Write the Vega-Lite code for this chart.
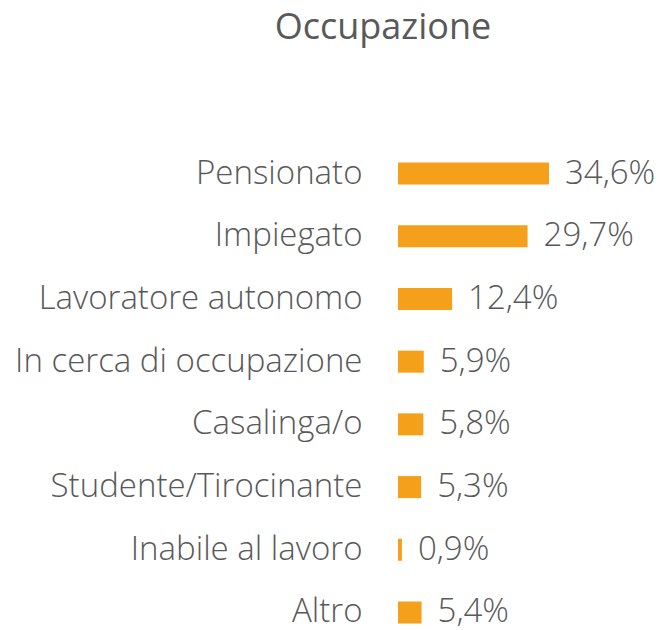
{
  "$schema": "https://vega.github.io/schema/vega-lite/v6.json",
  "autosize": {"type": "none"},
  "width": 240,
  "height": 461,
  "padding": {"left": 398, "top": 162.5, "right": 23, "bottom": 6},
  "config": {
    "view": {"stroke": null},
    "locale": {"number": {"decimal": ",", "thousands": ".", "grouping": [3], "currency": ["€", ""]}},
    "font": "Open Sans"
  },
  "title": {
    "text": "Occupazione",
    "font": "Open Sans",
    "fontSize": 36,
    "fontWeight": "normal",
    "color": "#595959",
    "anchor": "middle",
    "dx": -135,
    "offset": 110
  },
  "data": {
    "values": [
      {"categoria": "Pensionato", "valore": 0.346},
      {"categoria": "Impiegato", "valore": 0.297},
      {"categoria": "Lavoratore autonomo", "valore": 0.124},
      {"categoria": "In cerca di occupazione", "valore": 0.059},
      {"categoria": "Casalinga/o", "valore": 0.058},
      {"categoria": "Studente/Tirocinante", "valore": 0.053},
      {"categoria": "Inabile al lavoro", "valore": 0.009},
      {"categoria": "Altro", "valore": 0.054}
    ]
  },
  "encoding": {
    "y": {
      "field": "categoria",
      "type": "nominal",
      "sort": null,
      "scale": {"paddingInner": 0.649, "paddingOuter": 0},
      "axis": {
        "title": null,
        "domain": false,
        "ticks": false,
        "labelPadding": 36,
        "labelFont": "Open Sans",
        "labelFontWeight": 300,
        "labelFontSize": 33,
        "labelColor": "#595959",
        "labelLimit": 500
      }
    },
    "x": {
      "field": "valore",
      "type": "quantitative",
      "scale": {"domain": [0, 0.55], "nice": false},
      "axis": null
    }
  },
  "layer": [
    {"mark": {"type": "bar", "color": "#F5A01A"}},
    {
      "mark": {"type": "text", "align": "left", "baseline": "middle", "dx": 16, "font": "Open Sans", "fontWeight": 300, "fontSize": 33, "color": "#595959"},
      "encoding": {"text": {"field": "valore", "type": "quantitative", "format": ".1%"}}
    }
  ]
}
